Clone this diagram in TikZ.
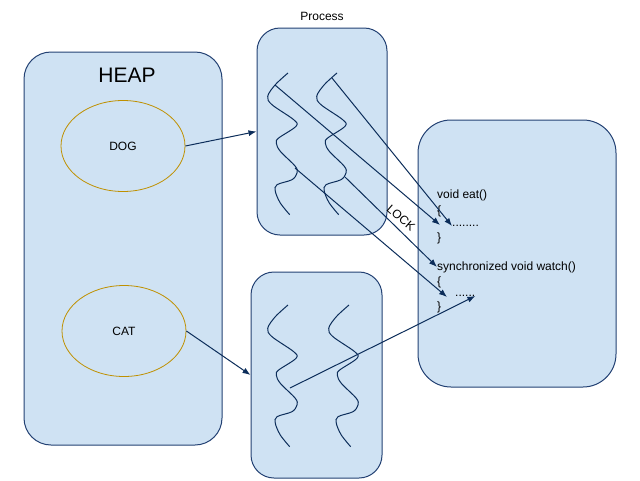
\documentclass[tikz,border=0pt]{standalone}
\usepackage{fontspec}
\setmainfont{Liberation Sans}
\usetikzlibrary{shapes.geometric,arrows.meta,positioning}

\definecolor{boxfill}{RGB}{207,226,243}
\definecolor{boxline}{RGB}{35,65,115}
\definecolor{wireblue}{RGB}{12,45,90}
\definecolor{objline}{RGB}{191,144,0}

\tikzset{
  thread/.pic={
    \draw[wire] plot[smooth, tension=0.55] coordinates {(0,0) (-12.7,11.7) (-20.3,23.3) (-16,31.7) (5.7,46.7) (8,53.3) (-9.3,65) (-11.7,70) (-7.7,78.3) (7.3,93.3) (9,100) (4,106.7) (-11,111.7) (-12.7,118.3) (-7.7,130) (1.7,141.7)};
  }
}

\begin{document}
\begin{tikzpicture}[
  x=1pt, y=-1pt,
  box/.style={rectangle, draw=boxline, fill=boxfill, line width=1pt, inner sep=0pt},
  obj/.style={ellipse, draw=objline, line width=0.8pt, minimum width=124pt, minimum height=91pt, font=\fontsize{12}{14}\selectfont},
  code/.style={anchor=west, inner sep=0pt, font=\fontsize{12}{14}\selectfont},
  wire/.style={draw=wireblue, line width=1pt},
  arr/.style={wireblue, line width=1pt, -{Latex[length=8pt,width=6pt]}}
]
\useasboundingbox (0,0) rectangle (640,480);

% memory and the two processes
\node[box, rounded corners=27pt, minimum width=198pt, minimum height=393pt] (heap) at (123,248.5) {};
\node[font=\fontsize{21}{24}\selectfont] (heaptitle) at (127,75) {HEAP};
\node[obj] (dog) at (123,146) {DOG};
\node[obj] (cat) at (124,331) {CAT};

\node[box, rounded corners=23pt, minimum width=130pt, minimum height=207pt,
  label={[font=\fontsize{12}{14}\selectfont, label distance=3pt]above:Process}] (proc) at (322,131.5) {};
\node[box, rounded corners=23pt, minimum width=131pt, minimum height=206pt] (procB) at (316.5,375) {};

% object with its methods
\node[box, rounded corners=33pt, minimum width=198pt, minimum height=267pt] (obj) at (517,253.5) {};
\node[code] (eat) at (437,195) {void eat()};
\node[code] (eatopen) at (437,211) {\{};
\node[code] (eatbody) at (452,226) {........};
\node[code] (eatclose) at (437,238) {\}};
\node[code] (watch) at (437,267) {synchronized void watch()};
\node[code] (watchopen) at (437,282) {\{};
\node[code] (watchbody) at (455,296) {......};
\node[code] (watchclose) at (437,307) {\}};

% threads
\pic at (288,73) {thread};
\pic at (337,73) {thread};
\pic at (288,305) {thread};
\pic at (349,305) {thread};

\coordinate (t1a) at (275,85);
\coordinate (t1c) at (295,168);
\coordinate (t2b) at (332,78);
\coordinate (t2d) at (345,177);
\coordinate (b1e) at (290,388);
\coordinate (eatA) at (440,225);
\coordinate (watchC) at (447,297);

\node[font=\fontsize{12}{14}\selectfont, rotate=-41] (lock) at (401,218) {LOCK};

\draw[arr] (dog.east) -- (proc.west);
\draw[arr] (cat.east) -- (procB.west);
\draw[arr] (t1a) -- (eatA);
\draw[arr] (t2b) -- (eatbody.west);
\draw[arr] (t1c) -- (watchC);
\draw[arr] (t2d) -- (watch.west);
\draw[arr] (b1e) -- (watchbody.east);
\end{tikzpicture}
\end{document}
